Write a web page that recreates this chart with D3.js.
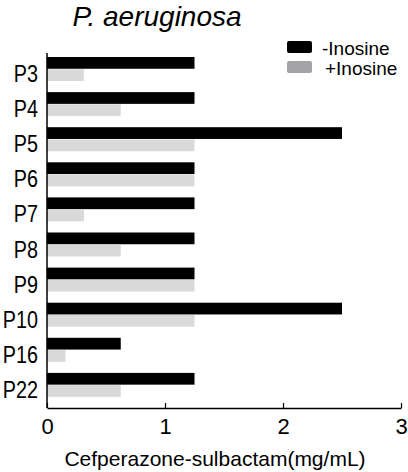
<!DOCTYPE html>
<html>
<head>
<meta charset="utf-8">
<script src="https://cdn.jsdelivr.net/npm/d3@7"></script>
<style>
  body { margin: 0; background: #fff; }
  svg text { font-family: "Liberation Sans", Arial, sans-serif; fill: #000; }
</style>
</head>
<body>
<div id="chart"></div>
<script>
// Strains on the y axis
const strains = ['P3', 'P4', 'P5', 'P6', 'P7', 'P8', 'P9', 'P10', 'P16', 'P22'];
const series = ['-Inosine', '+Inosine'];
// MIC values (mg/mL)
const withoutInosine = [1.25, 1.25, 2.5, 1.25, 1.25, 1.25, 1.25, 2.5, 0.625, 1.25];
const withInosine = [0.3125, 0.625, 1.25, 1.25, 0.3125, 0.625, 1.25, 1.25, 0.15625, 0.625];
const xTicks = [0, 1, 2, 3];

const width = 408;
const height = 472;

const svg = d3.select('#chart')
  .append('svg')
  .attr('width', width)
  .attr('height', height);

// Title
svg.append('text')
  .attr('x', 157)
  .attr('y', 26)
  .attr('text-anchor', 'middle')
  .style('font-size', '28px')
  .style('font-style', 'italic')
  .text('P. aeruginosa');

const xScale = d3.scaleLinear().domain([0, 3]).range([47, 401]);

const y0 = d3.scaleBand()
  .domain(strains)
  .range([53, 408])
  .paddingInner(0.316)
  .paddingOuter(0.215)
  .align(0.265);

const y1 = d3.scaleBand()
  .domain(series)
  .range([0, y0.bandwidth()])
  .paddingInner(0.04);

const colors = d3.scaleOrdinal().domain(series).range(['#000000', '#d9d9d9']);

// Group data per strain
const rows = strains.map((s, i) => ({
  strain: s,
  values: [
    { key: series[0], value: withoutInosine[i] },
    { key: series[1], value: withInosine[i] },
  ],
}));

const groups = svg.append('g')
  .selectAll('g')
  .data(rows)
  .join('g')
  .attr('transform', (d) => `translate(0, ${y0(d.strain)})`);

groups.selectAll('rect')
  .data((d) => d.values)
  .join('rect')
  .attr('x', xScale(0))
  .attr('y', (d) => y1(d.key))
  .attr('width', (d) => xScale(d.value) - xScale(0))
  .attr('height', y1.bandwidth())
  .attr('fill', (d) => colors(d.key));

// Y labels, slightly condensed and a bit below the group center
svg.append('g')
  .selectAll('text')
  .data(strains)
  .join('text')
  .attr('transform', (d) => `translate(38, ${y0(d) + y0.bandwidth() / 2 + 5}) scale(0.9, 1.05)`)
  .attr('dy', '0.35em')
  .attr('text-anchor', 'end')
  .style('font-size', '22px')
  .text((d) => d);

// Y axis line
svg.append('line')
  .attr('x1', xScale(0))
  .attr('x2', xScale(0))
  .attr('y1', 53)
  .attr('y2', 408)
  .attr('stroke', '#000')
  .attr('stroke-width', 1.5);

// X axis
const xAxis = svg.append('g')
  .attr('transform', 'translate(0, 408)')
  .call(d3.axisBottom(xScale)
    .tickValues(xTicks)
    .tickFormat(d3.format('d'))
    .tickSizeInner(-5)
    .tickSizeOuter(0)
    .tickPadding(10));

xAxis.select('.domain').attr('stroke-width', 1.5);
xAxis.selectAll('.tick line').attr('stroke-width', 1.2);
xAxis.selectAll('.tick text')
  .style('font-size', '22px')
  .style('font-family', '"Liberation Sans", Arial, sans-serif')
  .attr('fill', '#000');

// Axis title
svg.append('text')
  .attr('x', 215)
  .attr('y', 466)
  .attr('text-anchor', 'middle')
  .style('font-size', '21px')
  .text('Cefperazone-sulbactam(mg/mL)');

// Legend
const legendColors = ['#000000', '#a3a3a6'];
const legend = svg.append('g')
  .selectAll('g')
  .data(series)
  .join('g')
  .attr('transform', (d, i) => `translate(287, ${41 + i * 20})`);

legend.append('rect')
  .attr('width', 25)
  .attr('height', 12)
  .attr('rx', 2)
  .attr('fill', (d, i) => legendColors[i]);

legend.append('text')
  .attr('x', (d, i) => (i === 0 ? 35 : 38))
  .attr('y', 14)
  .style('font-size', '19px')
  .text((d) => d);
</script>
</body>
</html>
